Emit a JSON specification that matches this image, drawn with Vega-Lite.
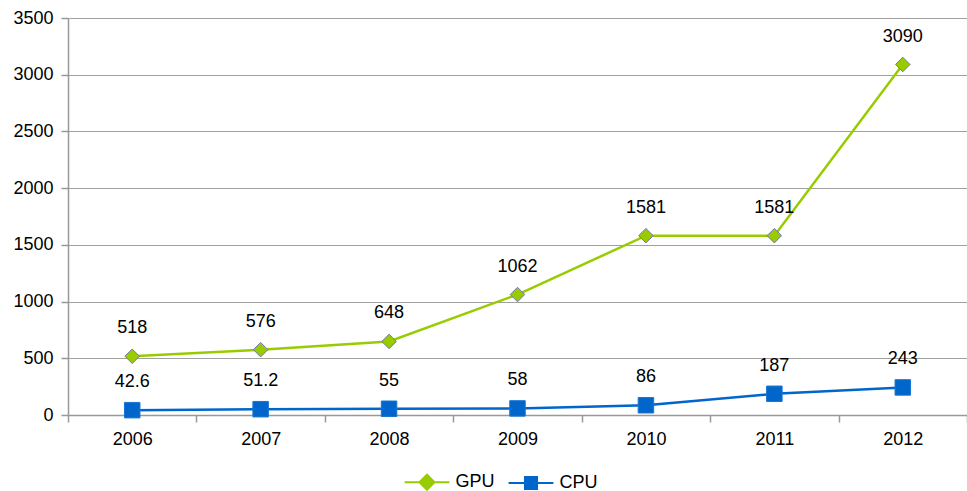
{
  "$schema": "https://vega.github.io/schema/vega-lite/v6.json",
  "width": 899,
  "height": 397,
  "autosize": {"type": "none"},
  "padding": {"left": 68, "top": 18, "right": 0, "bottom": 76},
  "background": "white",
  "config": {
    "font": "Liberation Sans",
    "view": {"stroke": null}
  },
  "data": {
    "values": [
      {"Year": "2006", "Series": "GPU", "Value": 518},
      {"Year": "2007", "Series": "GPU", "Value": 576},
      {"Year": "2008", "Series": "GPU", "Value": 648},
      {"Year": "2009", "Series": "GPU", "Value": 1062},
      {"Year": "2010", "Series": "GPU", "Value": 1581},
      {"Year": "2011", "Series": "GPU", "Value": 1581},
      {"Year": "2012", "Series": "GPU", "Value": 3090},
      {"Year": "2006", "Series": "CPU", "Value": 42.6},
      {"Year": "2007", "Series": "CPU", "Value": 51.2},
      {"Year": "2008", "Series": "CPU", "Value": 55},
      {"Year": "2009", "Series": "CPU", "Value": 58},
      {"Year": "2010", "Series": "CPU", "Value": 86},
      {"Year": "2011", "Series": "CPU", "Value": 187},
      {"Year": "2012", "Series": "CPU", "Value": 243}
    ]
  },
  "encoding": {
    "x": {
      "field": "Year",
      "type": "ordinal",
      "scale": {"type": "band", "paddingInner": 0, "paddingOuter": 0},
      "axis": {
        "title": null,
        "labelAngle": 0,
        "tickBand": "extent",
        "domainColor": "#999999",
        "domainWidth": 1.5,
        "tickColor": "#999999",
        "tickWidth": 1.5,
        "tickSize": 7,
        "labelFontSize": 18,
        "labelColor": "#000000",
        "labelPadding": 8,
        "grid": false
      }
    },
    "y": {
      "field": "Value",
      "type": "quantitative",
      "scale": {"domain": [0, 3500]},
      "axis": {
        "title": null,
        "values": [0, 500, 1000, 1500, 2000, 2500, 3000, 3500],
        "format": "d",
        "grid": true,
        "gridColor": "#a0a0a0",
        "gridWidth": 1,
        "domainColor": "#999999",
        "domainWidth": 1.5,
        "tickColor": "#999999",
        "tickWidth": 1.5,
        "tickSize": 7,
        "labelFontSize": 18,
        "labelColor": "#000000",
        "labelPadding": 8
      }
    }
  },
  "layer": [
    {
      "transform": [{"filter": "datum.Series == 'GPU'"}],
      "mark": {"type": "line", "color": "#99cc00", "strokeWidth": 2.5}
    },
    {
      "transform": [{"filter": "datum.Series == 'CPU'"}],
      "mark": {"type": "line", "color": "#0066cc", "strokeWidth": 2.5}
    },
    {
      "transform": [{"filter": "datum.Series == 'GPU'"}],
      "mark": {"type": "point", "shape": "diamond", "filled": true, "fill": "#99cc00", "stroke": "#7575ad", "strokeWidth": 1, "size": 210, "opacity": 1}
    },
    {
      "transform": [{"filter": "datum.Series == 'CPU'"}],
      "mark": {"type": "point", "shape": "square", "filled": true, "fill": "#0066cc", "stroke": "#1a75d1", "strokeWidth": 1, "size": 240, "opacity": 1}
    },
    {
      "mark": {"type": "text", "dy": -28, "fontSize": 18, "color": "#000000"},
      "encoding": {"text": {"field": "Value", "type": "nominal"}}
    },
    {
      "mark": {"type": "point", "filled": true, "opacity": 0},
      "encoding": {
        "color": {
          "field": "Series",
          "type": "nominal",
          "scale": {"domain": ["GPU", "CPU"], "range": ["#99cc00", "#0066cc"]},
          "legend": {
            "orient": "none",
            "legendX": 350,
            "legendY": 455,
            "direction": "horizontal",
            "title": null,
            "padding": 0,
            "symbolSize": 196,
            "labelFontSize": 18,
            "labelColor": "#000000",
            "labelOffset": 19.5,
            "columnPadding": 9,
            "encode": {"symbols": {"update": {"opacity": {"value": 1}, "stroke": {"scale": "color", "field": "value"}, "strokeWidth": {"value": 2}}}}
          }
        },
        "shape": {
          "field": "Series",
          "type": "nominal",
          "scale": {"domain": ["GPU", "CPU"], "range": ["M-3.2,0L3.2,0M-1.07,0L0,-1.07L1.07,0L0,1.07Z", "M-3.2,0L3.2,0M-0.86,-0.86L0.86,-0.86L0.86,0.86L-0.86,0.86Z"]},
          "legend": {
            "orient": "none",
            "legendX": 350,
            "legendY": 455,
            "direction": "horizontal",
            "title": null,
            "padding": 0,
            "symbolSize": 196,
            "labelFontSize": 18,
            "labelColor": "#000000",
            "labelOffset": 19.5,
            "columnPadding": 9,
            "encode": {"symbols": {"update": {"opacity": {"value": 1}, "stroke": {"scale": "color", "field": "value"}, "strokeWidth": {"value": 2}}}}
          }
        }
      }
    }
  ]
}
